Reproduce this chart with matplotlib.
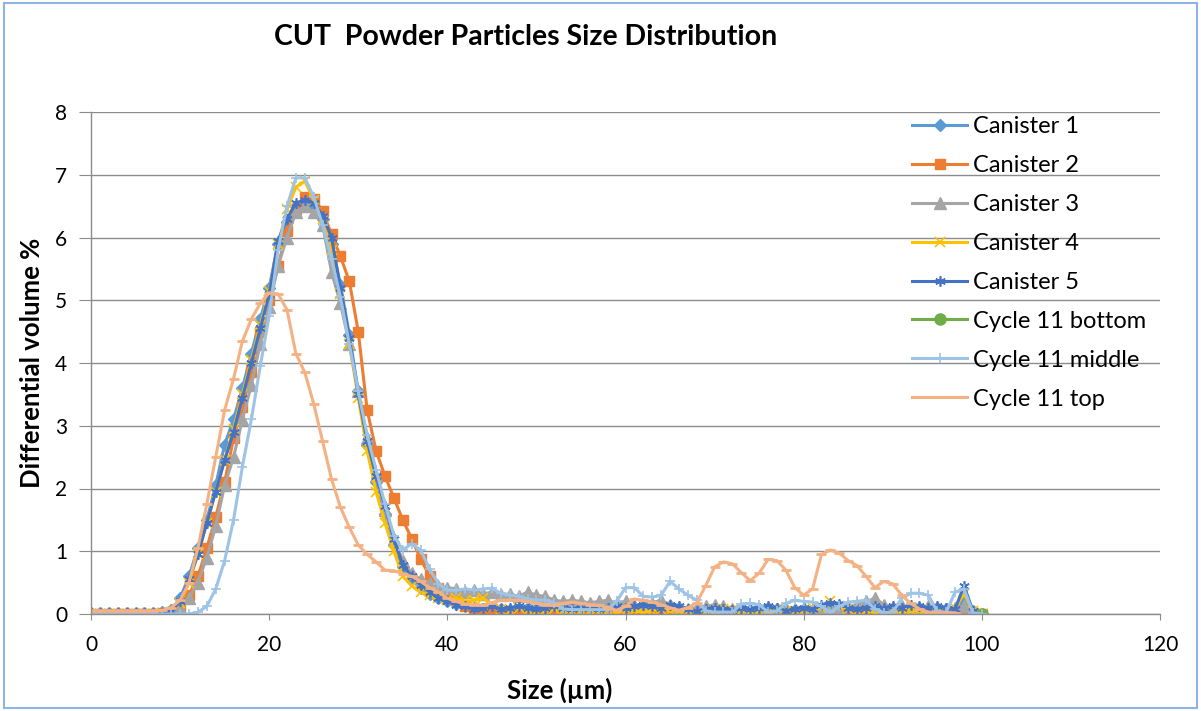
import matplotlib
matplotlib.use("Agg")
import matplotlib.pyplot as plt
from matplotlib.patches import Rectangle

plt.rcParams['font.family'] = ['Lato', 'DejaVu Sans']

# particle size bins (um)
sizes = list(range(0, 101))

canister_1 = [
    0.02, 0.02, 0.02, 0.02, 0.02, 0.02, 0.02, 0.02, 0.03, 0.06,
    0.25, 0.6, 1.05, 1.5, 2.05, 2.7, 3.1, 3.6, 4.15, 4.7,
    5.2, 5.9, 6.25, 6.5, 6.55, 6.5, 6.3, 5.9, 5.25, 4.45,
    3.55, 2.7, 2.1, 1.6, 1.1, 0.75, 0.55, 0.42, 0.32, 0.25,
    0.2, 0.16, 0.12, 0.1, 0.08, 0.1, 0.08, 0.06, 0.08, 0.1,
    0.08, 0.06, 0.08, 0.1, 0.08, 0.06, 0.08, 0.1, 0.08, 0.06,
    0.08, 0.1, 0.12, 0.1, 0.08, 0.12, 0.1, 0.06, 0.05, 0.06,
    0.08, 0.06, 0.05, 0.08, 0.06, 0.08, 0.1, 0.08, 0.05, 0.06,
    0.08, 0.06, 0.1, 0.12, 0.12, 0.08, 0.06, 0.08, 0.1, 0.08,
    0.1, 0.08, 0.1, 0.1, 0.08, 0.1, 0.08, 0.06, 0.2, 0.04,
    0.0]

canister_2 = [
    0.0, 0.0, 0.0, 0.0, 0.0, 0.0, 0.0, 0.0, 0.01, 0.03,
    0.1, 0.3, 0.6, 1.05, 1.55, 2.1, 2.8, 3.3, 3.85, 4.5,
    5.0, 5.55, 6.1, 6.45, 6.65, 6.62, 6.42, 6.05, 5.7, 5.3,
    4.5, 3.25, 2.6, 2.2, 1.85, 1.5, 1.2, 0.88, 0.6, 0.42,
    0.3, 0.22, 0.12, 0.05, 0.02, 0.0, 0.0, 0.01, 0.0, 0.0,
    0.0, 0.01, 0.0, 0.0, 0.02, 0.0, 0.0, 0.0, 0.01, 0.0,
    0.0, 0.02, 0.0, 0.0, 0.0, 0.01, 0.0, 0.0, 0.0, 0.0,
    0.02, 0.05, 0.05, 0.03, 0.0, 0.0, 0.0, 0.0, 0.02, 0.0,
    0.0, 0.03, 0.05, 0.05, 0.03, 0.0, 0.0, 0.0, 0.0, 0.0,
    0.0, 0.0, 0.0, 0.0, 0.02, 0.0, 0.0, 0.03, 0.05, 0.02,
    0.0]

canister_3 = [
    0.02, 0.02, 0.02, 0.02, 0.02, 0.02, 0.02, 0.02, 0.02, 0.03,
    0.1, 0.25, 0.5, 0.9, 1.4, 2.05, 2.5, 3.1, 3.65, 4.3,
    4.9, 5.55, 6.0, 6.4, 6.5, 6.4, 6.2, 5.45, 4.95, 4.3,
    3.55, 2.8, 2.2, 1.65, 1.2, 0.85, 0.65, 0.55, 0.5, 0.45,
    0.42, 0.4, 0.35, 0.38, 0.32, 0.35, 0.3, 0.32, 0.28, 0.35,
    0.3, 0.28, 0.22, 0.2, 0.22, 0.2, 0.18, 0.2, 0.22, 0.18,
    0.2, 0.15, 0.12, 0.18, 0.22, 0.15, 0.1, 0.08, 0.1, 0.12,
    0.15, 0.12, 0.08, 0.05, 0.05, 0.08, 0.05, 0.08, 0.1, 0.05,
    0.08, 0.05, 0.08, 0.1, 0.08, 0.12, 0.15, 0.2, 0.25, 0.15,
    0.1, 0.12, 0.08, 0.1, 0.12, 0.08, 0.05, 0.1, 0.12, 0.05,
    0.0]

canister_4 = [
    0.0, 0.0, 0.0, 0.0, 0.0, 0.0, 0.0, 0.0, 0.01, 0.03,
    0.18, 0.5, 0.95, 1.45, 1.95, 2.45, 2.95, 3.5, 4.05, 4.6,
    5.15, 5.9, 6.45, 6.8, 6.9, 6.6, 6.3, 5.8, 5.1, 4.3,
    3.45, 2.6, 1.95, 1.45, 1.0, 0.6, 0.45, 0.35, 0.3, 0.25,
    0.22, 0.25, 0.2, 0.22, 0.25, 0.15, 0.08, 0.05, 0.1, 0.05,
    0.03, 0.05, 0.08, 0.05, 0.03, 0.05, 0.05, 0.03, 0.05, 0.03,
    0.05, 0.05, 0.03, 0.05, 0.08, 0.05, 0.05, 0.03, 0.03, 0.05,
    0.05, 0.08, 0.05, 0.05, 0.03, 0.05, 0.05, 0.08, 0.05, 0.05,
    0.05, 0.1, 0.1, 0.2, 0.12, 0.08, 0.05, 0.05, 0.03, 0.05,
    0.05, 0.03, 0.05, 0.05, 0.03, 0.05, 0.05, 0.1, 0.32, 0.05,
    0.0]

canister_5 = [
    0.02, 0.02, 0.02, 0.02, 0.02, 0.02, 0.02, 0.02, 0.02, 0.04,
    0.2, 0.55, 0.95, 1.45, 1.95, 2.45, 2.9, 3.45, 4.0, 4.55,
    5.1, 5.95, 6.3, 6.55, 6.6, 6.55, 6.35, 6.0, 5.2, 4.4,
    3.5, 2.75, 2.2, 1.72, 1.2, 0.78, 0.6, 0.47, 0.35, 0.25,
    0.2, 0.15, 0.12, 0.08, 0.1, 0.12, 0.08, 0.1, 0.12, 0.1,
    0.08, 0.1, 0.12, 0.1, 0.08, 0.1, 0.1, 0.08, 0.1, 0.12,
    0.1, 0.12, 0.15, 0.12, 0.1, 0.15, 0.12, 0.08, 0.05, 0.08,
    0.1, 0.08, 0.06, 0.1, 0.08, 0.1, 0.12, 0.1, 0.05, 0.08,
    0.1, 0.08, 0.15, 0.18, 0.16, 0.1, 0.08, 0.1, 0.12, 0.1,
    0.12, 0.1, 0.15, 0.12, 0.1, 0.12, 0.1, 0.08, 0.45, 0.05,
    0.0]

# bottom sample only shows its last point
bottom_sizes = [100]
cycle11_bottom = [0.0]

cycle11_middle = [
    0.0, 0.0, 0.0, 0.0, 0.0, 0.0, 0.0, 0.0, 0.0, 0.0,
    0.0, 0.0, 0.03, 0.12, 0.4, 0.85, 1.5, 2.35, 3.1, 3.95,
    4.75, 5.8, 6.5, 6.95, 6.95, 6.65, 6.2, 5.65, 5.05, 4.3,
    3.55, 2.85, 2.3, 1.75, 1.25, 1.02, 1.12, 1.02, 0.72, 0.48,
    0.38, 0.38, 0.4, 0.38, 0.4, 0.41, 0.33, 0.3, 0.28, 0.24,
    0.22, 0.22, 0.18, 0.08, 0.07, 0.07, 0.07, 0.07, 0.07, 0.2,
    0.42, 0.42, 0.28, 0.27, 0.3, 0.52, 0.4, 0.3, 0.22, 0.05,
    0.03, 0.03, 0.03, 0.16, 0.17, 0.15, 0.03, 0.05, 0.17, 0.22,
    0.2, 0.19, 0.12, 0.03, 0.12, 0.19, 0.2, 0.22, 0.08, 0.02,
    0.03, 0.25, 0.33, 0.33, 0.3, 0.04, 0.03, 0.35, 0.4, 0.02,
    0.0]

cycle11_top = [
    0.05, 0.05, 0.05, 0.05, 0.05, 0.05, 0.05, 0.05, 0.06, 0.1,
    0.22, 0.5, 1.05, 1.75, 2.5, 3.25, 3.75, 4.35, 4.7, 4.95,
    5.12, 5.1, 4.85, 4.15, 3.85, 3.35, 2.75, 2.15, 1.7, 1.38,
    1.1, 0.95, 0.83, 0.7, 0.69, 0.64, 0.6, 0.52, 0.42, 0.35,
    0.25, 0.2, 0.16, 0.15, 0.14, 0.18, 0.22, 0.22, 0.22, 0.2,
    0.17, 0.15, 0.14, 0.17, 0.19, 0.17, 0.15, 0.14, 0.1, 0.06,
    0.12, 0.24, 0.22, 0.19, 0.15, 0.1, 0.06, 0.1, 0.18, 0.45,
    0.75, 0.83, 0.8, 0.66, 0.53, 0.65, 0.87, 0.85, 0.7, 0.42,
    0.3, 0.4, 0.95, 1.02, 0.97, 0.85, 0.77, 0.6, 0.42, 0.52,
    0.48, 0.3, 0.17, 0.08, 0.03, 0.02, 0.02, 0.02, None, None,
    None]

fig = plt.figure(figsize=(12.01, 7.11), dpi=100)
ax = fig.add_axes([91 / 1201, 97 / 711, 1069 / 1201, 502 / 711])

lw = 2.2
ax.plot(sizes, canister_1, color='#5B9BD5', lw=lw, marker='D', ms=6.5, label='Canister 1')
ax.plot(sizes, canister_2, color='#ED7D31', lw=lw, marker='s', ms=7.5, label='Canister 2')
ax.plot(sizes, canister_3, color='#A5A5A5', lw=lw, marker='^', ms=8, label='Canister 3')
ax.plot(sizes, canister_4, color='#FFC000', lw=lw, marker='x', ms=7, mew=1.2, label='Canister 4')
ax.plot(sizes, canister_5, color='#4472C4', lw=lw, marker=(6, 2, 0), ms=7.5, mew=1.2, label='Canister 5')
ax.plot(bottom_sizes, cycle11_bottom, color='#70AD47', lw=lw, marker='o', ms=8, label='Cycle 11 bottom')
ax.plot(sizes, cycle11_middle, color='#9DC3E6', lw=lw, marker='+', ms=7.5, mew=1.2, label='Cycle 11 middle')
ax.plot(sizes, cycle11_top, color='#F4B183', lw=lw, marker='_', ms=7, mew=2, label='Cycle 11 top')

ax.set_xlim(0, 120)
ax.set_ylim(0, 8)
ax.set_xticks(range(0, 121, 20))
ax.set_yticks(range(0, 9))

grey = '#8C8C8C'
ax.grid(axis='y', color=grey, lw=1)
ax.set_axisbelow(True)
for s in ['top', 'right']:
    ax.spines[s].set_visible(False)
for s in ['left', 'bottom']:
    ax.spines[s].set_color(grey)
    ax.spines[s].set_linewidth(1)
ax.tick_params(axis='x', direction='out', length=4, color=grey, pad=11, labelsize=15)
ax.tick_params(axis='y', direction='out', length=9, color=grey, pad=8, labelsize=15)

ax.legend(loc='upper left', bbox_to_anchor=(912 / 1201, 1 - 116 / 711),
          bbox_transform=fig.transFigure, frameon=False, fontsize=17,
          handlelength=2.35, handletextpad=0.25, labelspacing=0.76,
          borderpad=0, borderaxespad=0)

fig.text(526 / 1201, 1 - 37 / 711, 'CUT  Powder Particles Size Distribution',
         ha='center', va='center', fontsize=20.5, fontweight='bold')
fig.text(560 / 1201, 1 - 690 / 711, 'Size (µm)', ha='center', va='center',
         fontsize=18.5, fontweight='bold')
fig.text(32 / 1201, 1 - 363 / 711, 'Differential volume %', ha='center', va='center',
         rotation=90, fontsize=18.5, fontweight='bold')

fig.patches.append(Rectangle((0.003, 0.004), 0.994, 0.992, transform=fig.transFigure,
                             fill=False, edgecolor='#8EB4E3', lw=1.5))

fig.savefig('out.png', dpi=100)
